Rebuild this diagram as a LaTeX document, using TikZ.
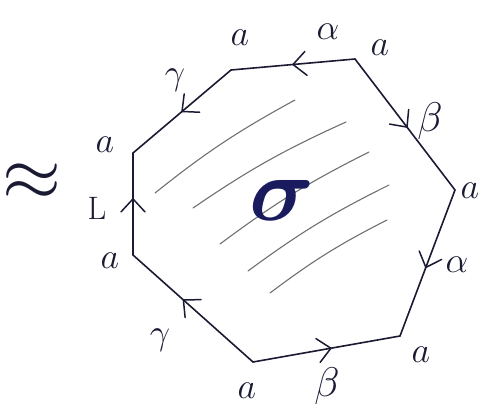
\documentclass[tikz,border=0pt]{standalone}
\usepackage{amsmath}
\usepackage{tikz}
\usetikzlibrary{arrows.meta,decorations.markings}
\definecolor{inkdark}{HTML}{1A1A33}
\definecolor{inkblue}{HTML}{1A1A5E}
\definecolor{inkgrey}{HTML}{707070}

\tikzset{
  side/.style={line width=1.6pt, color=inkdark, line cap=round, line join=round},
  midarrow/.style={postaction={decorate, decoration={markings,
      mark=at position #1 with {\draw[line width=1.5pt, line cap=round, line join=round]
        (-13pt,-12pt) -- (0pt,0pt) -- (-13pt,12pt);}}}},
  hatchline/.style={line width=1.1pt, color=inkgrey, line cap=round},
  lbl/.style={font=\Huge, scale=1.45, color=inkdark, inner sep=0pt},
}

\begin{document}
\begin{tikzpicture}[x=1pt, y=-1pt, >=Stealth]
  \useasboundingbox (0,0) rectangle (487,410);

  % Corners of the heptagon
  \coordinate (vNE) at (355,59);
  \coordinate (vN)  at (231,70);
  \coordinate (vW)  at (133,153);
  \coordinate (vSW) at (133,255);
  \coordinate (vS)  at (253,362);
  \coordinate (vSE) at (400,336);
  \coordinate (vE)  at (455,190);

  % Hatching of the face
  \draw[hatchline] (155,193) to[bend left=5] (295,100);
  \draw[hatchline] (193,208) to[bend left=5] (346,122);
  \draw[hatchline] (220,244) to[bend left=5] (369,152);
  \draw[hatchline] (248,271) to[bend left=5] (389,185);
  \draw[hatchline] (270,293) to[bend left=5] (387,220);

  % Sides with their directions
  \draw[side, midarrow=0.5]  (vNE) -- (vN);
  \draw[side, midarrow=0.5]  (vN)  -- (vW);
  \draw[side, midarrow=0.55] (vSW) -- (vW);
  \draw[side, midarrow=0.58] (vS)  -- (vSW);
  \draw[side, midarrow=0.53] (vS)  -- (vSE);
  \draw[side, midarrow=0.53] (vE)  -- (vSE);
  \draw[side, midarrow=0.52] (vNE) -- (vE);

  % Vertex labels
  \node[lbl] (aNE) at (380,48)  {$a$};
  \node[lbl] (aN)  at (240,38)  {$a$};
  \node[lbl] (aW)  at (105,145) {$a$};
  \node[lbl] (aSW) at (110,261) {$a$};
  \node[lbl] (aS)  at (247,391) {$a$};
  \node[lbl] (aSE) at (421,355) {$a$};
  \node[lbl] (aE)  at (470,191) {$a$};

  % Side labels
  \node[lbl] (alphaN) at (328,32)  {$\alpha$};
  \node[lbl] (gammaN) at (175,80)  {$\gamma$};
  \node[lbl, scale=0.9] (ellW) at (97,208) {L};
  \node[lbl, scale=1.15] (betaS) at (327,386) {$\beta$};
  \node[lbl] (gammaS) at (160,340) {$\gamma$};
  \node[lbl] (alphaE) at (457,265) {$\alpha$};
  \node[lbl, scale=1.15] (betaE) at (430,121) {$\beta$};

  % Face label and the sign in front
  \node[lbl, color=inkblue, scale=2.5] (face) at (282,200) {$\boldsymbol{\sigma}$};
  \node[lbl, scale=2.1] (approx) at (32,182) {$\approx$};
\end{tikzpicture}
\end{document}
